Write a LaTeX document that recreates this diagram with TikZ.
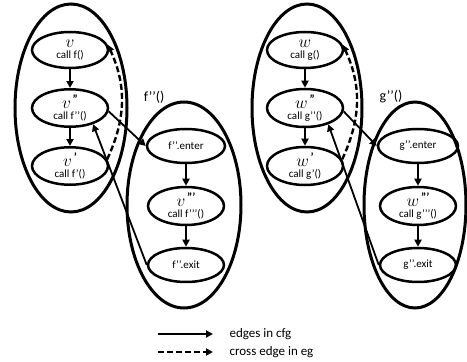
\documentclass[tikz,border=0pt]{standalone}
\usepackage{fontspec}
\setmainfont{Carlito}
\usetikzlibrary{shapes.geometric,arrows.meta}
\newcommand{\mv}[1]{{\fontsize{17}{15}\selectfont$#1$}}
\newcommand{\qq}[1]{\raisebox{1.0ex}{\fontsize{12}{12}\selectfont\bfseries #1}}
\begin{document}
\begin{tikzpicture}[x=1pt,y=1pt,
  outer/.style={ellipse,draw,line width=3pt,inner sep=0pt},
  inn/.style={ellipse,draw,line width=2.5pt,inner sep=0pt,minimum width=76pt,minimum height=36pt,align=center,font=\fontsize{11}{11}\selectfont},
  cfg/.style={-{Triangle[length=7pt,width=7pt]},line width=2.2pt},
  back/.style={-{Triangle[length=7pt,width=7pt]},line width=1.8pt},
  cross/.style={dash pattern=on 6pt off 3pt,line width=2.4pt,-{Triangle[length=7pt,width=7pt]}},
  lbl/.style={font=\fontsize{14}{14}\selectfont},
  leg/.style={font=\fontsize{13}{13}\selectfont,anchor=west}]
\useasboundingbox (0,0) rectangle (467,362);
% outer ellipses
\node[outer,minimum width=112pt,minimum height=208pt] (L) at (71,254) {};
\node[outer,minimum width=114pt,minimum height=206pt] (F) at (184,157) {};
\node[outer,minimum width=110pt,minimum height=208pt] (R) at (307,254) {};
\node[outer,minimum width=102pt,minimum height=206pt] (G) at (415,157) {};
\node[lbl] (fl) at (154,265) {f’’()};
\node[lbl] (gl) at (391,265) {g’’()};
% left group
\node[inn] (v) at (70,312) {\mv{v}\\[0pt]call f()};
\node[inn] (vpp) at (70,254) {\mv{v}\,\qq{"}\\[0pt]call f’’()};
\node[inn] (vp) at (70,196) {\mv{v}\,\qq{\char39}\\[0pt]call f’()};
\node[inn,minimum width=78pt,minimum height=34pt] (fen) at (186,216) {f’’.enter};
\node[inn,minimum height=38pt] (vppp) at (186,156) {\mv{v}\,\qq{\char39\char39\char39}\\[0pt]call f’’’()};
\node[inn,minimum height=34pt] (fex) at (186,97) {f’’.exit};
% right group
\node[inn] (w) at (305,312) {\mv{w}\\[0pt]call g()};
\node[inn] (wpp) at (305,254) {\mv{w}\,\qq{"}\\[0pt]call g’’()};
\node[inn] (wp) at (305,196) {\mv{w}\,\qq{\char39}\\[0pt]call g’()};
\node[inn,minimum width=80pt,minimum height=34pt] (gen) at (418,216) {g’’.enter};
\node[inn,minimum height=38pt] (wppp) at (418,156) {\mv{w}\,\qq{\char39\char39\char39}\\[0pt]call g’’’()};
\node[inn,minimum height=34pt] (gex) at (418,97) {g’’.exit};
% cfg edges
\draw[cfg] (v) -- (vpp);
\draw[cfg] (vpp) -- (vp);
\draw[cfg] (fen) -- (vppp);
\draw[cfg] (vppp) -- (fex);
\draw[cfg] (w) -- (wpp);
\draw[cfg] (wpp) -- (wp);
\draw[cfg] (gen) -- (wppp);
\draw[cfg] (wppp) -- (gex);
\draw[back] (vpp.-5) -- (fen.west);
\draw[back] (wpp.-5) -- (gen.west);
\draw[back] (fex.west) -- (vpp.-35);
\draw[back] (gex.west) -- (wpp.-35);
% cross edges
\draw[cross] (vp.10) to[out=65,in=-65] (v.8);
\draw[cross] (wp.10) to[out=65,in=-65] (w.8);
% legend
\coordinate (la) at (158,28);
\coordinate (lb) at (213,28);
\coordinate (lc) at (158,10);
\coordinate (ld) at (213,10);
\draw[cfg] (la) -- (lb);
\draw[cross] (lc) -- (ld);
\node[leg] (t1) at (226,28) {edges in cfg};
\node[leg] (t2) at (226,10) {cross edge in eg};
\end{tikzpicture}
\end{document}
